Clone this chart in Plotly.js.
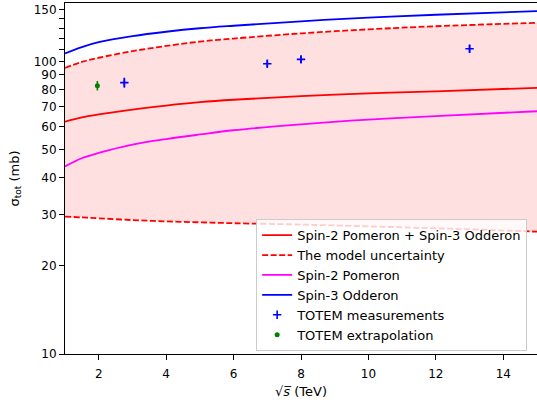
<!DOCTYPE html>
<html>
<head>
<meta charset="utf-8">
<script src="https://cdn.plot.ly/plotly-3.0.1.min.js"></script>
<style>html,body{margin:0;padding:0;background:#fff;}</style>
</head>
<body>
<div id="chart" style="width:537px;height:407px;"></div>
<script>
// sqrt(s) grid in TeV
const sqrtS = [1, 1.5, 2, 3, 4, 5, 6, 8, 10, 12, 15];
// Spin-2 Pomeron + Spin-3 Odderon (mb)
const sigmaTotal = [62.3, 64.4, 65.9, 68.5, 70.7, 72.6, 74.0, 76.1, 77.8, 79.1, 81.3];
// model uncertainty band (mb)
const sigmaUpper = [95.1, 99.7, 103.0, 108.5, 113.0, 117.0, 119.8, 124.8, 128.8, 132.0, 135.6];
const sigmaLower = [29.5, 29.3, 29.1, 28.7, 28.4, 28.2, 28.0, 27.7, 27.3, 26.9, 26.2];
// Spin-2 Pomeron (mb)
const sigmaPomeron = [43.8, 46.7, 48.7, 52.0, 54.3, 56.3, 58.2, 61.0, 63.3, 65.1, 67.6];
// Spin-3 Odderon (mb)
const sigmaOdderon = [106.5, 112.0, 116.4, 122.1, 126.4, 129.9, 132.5, 137.2, 141.3, 144.5, 148.7];
// TOTEM measurements
const totemX = [2.76, 7, 8, 13];
const totemY = [84.7, 98.3, 101.7, 110.6];
const totemErr = [3.3, 2.8, 2.9, 3.4];
// TOTEM extrapolation
const extrapX = [1.96];
const extrapY = [82.7];
const extrapErr = [3.1];

const yTickVals = [10, 20, 30, 40, 50, 60, 70, 80, 90, 100, 110, 120, 130, 140, 150];
const yTickText = ['10', '20', '30', '40', '50', '60', '70', '80', '90', '100', ' ', ' ', ' ', ' ', '150'];
const xTickVals = [2, 4, 6, 8, 10, 12, 14];

const dash = '6px,2.5px';
const traces = [
  {x: sqrtS, y: sigmaLower, mode: 'lines', line: {width: 0, shape: 'spline'}, showlegend: false, hoverinfo: 'skip'},
  {x: sqrtS, y: sigmaUpper, mode: 'lines', line: {width: 0, shape: 'spline'}, fill: 'tonexty',
   fillcolor: 'rgba(255,0,0,0.12)', showlegend: false, hoverinfo: 'skip'},
  {x: sqrtS, y: sigmaLower, mode: 'lines', line: {color: '#ff0000', width: 1.8, dash: dash, shape: 'spline'}, showlegend: false},
  {x: sqrtS, y: sigmaTotal, mode: 'lines', name: 'Spin-2 Pomeron + Spin-3 Odderon',
   line: {color: '#ff0000', width: 1.8, shape: 'spline'}, legendrank: 1},
  {x: sqrtS, y: sigmaUpper, mode: 'lines', name: 'The model uncertainty',
   line: {color: '#ff0000', width: 1.8, dash: dash, shape: 'spline'}, legendrank: 2},
  {x: sqrtS, y: sigmaPomeron, mode: 'lines', name: 'Spin-2 Pomeron',
   line: {color: '#ff00ff', width: 1.8, shape: 'spline'}, legendrank: 3},
  {x: sqrtS, y: sigmaOdderon, mode: 'lines', name: 'Spin-3 Odderon',
   line: {color: '#0000ff', width: 1.8, shape: 'spline'}, legendrank: 4},
  {x: totemX, y: totemY, mode: 'markers', name: 'TOTEM measurements',
   marker: {symbol: 'cross-thin', size: 6, color: '#0000ff', line: {color: '#0000ff', width: 1.6}},
   error_y: {type: 'data', array: totemErr, visible: true, color: '#0000ff', thickness: 1.6, width: 0},
   legendrank: 5},
  {x: extrapX, y: extrapY, mode: 'markers', name: 'TOTEM extrapolation',
   marker: {symbol: 'circle', size: 5, color: '#008000'},
   error_y: {type: 'data', array: extrapErr, visible: true, color: '#008000', thickness: 1.6, width: 0},
   legendrank: 6}
];

const layout = {
  width: 537, height: 407,
  margin: {l: 65, r: 0, t: 3, b: 53},
  paper_bgcolor: '#ffffff', plot_bgcolor: '#ffffff',
  font: {family: 'DejaVu Sans', size: 13, color: '#000'},
  showlegend: true,
  legend: {
    x: 0.405, y: 0.384, xanchor: 'left', yanchor: 'top',
    bgcolor: 'rgba(255,255,255,0.8)', bordercolor: '#cccccc', borderwidth: 1,
    font: {family: 'DejaVu Sans', size: 13, color: '#000'}, traceorder: 'normal'
  },
  xaxis: {
    range: [1, 15], tickvals: xTickVals, ticks: 'outside', ticklen: 5, tickwidth: 1, tickcolor: '#000',
    showgrid: false, zeroline: false, showline: true, linecolor: '#000', linewidth: 1, mirror: true,
    tickfont: {size: 12}, ticklabelstandoff: 4,
    title: {text: '√<i>s̅</i> (TeV)', font: {size: 13}, standoff: 6}, automargin: false
  },
  yaxis: {
    type: 'log', range: [1, 2.2], tickmode: 'array', tickvals: yTickVals, ticktext: yTickText,
    ticks: 'outside', ticklen: 5, tickwidth: 1, tickcolor: '#000',
    showgrid: false, zeroline: false, showline: true, linecolor: '#000', linewidth: 1,
    tickfont: {size: 12},
    title: {text: 'σ<sub>tot</sub> (mb)', font: {size: 13}, standoff: 11}, automargin: false
  }
};

Plotly.newPlot('chart', traces, layout, {displayModeBar: false, staticPlot: true});
</script>
</body>
</html>
